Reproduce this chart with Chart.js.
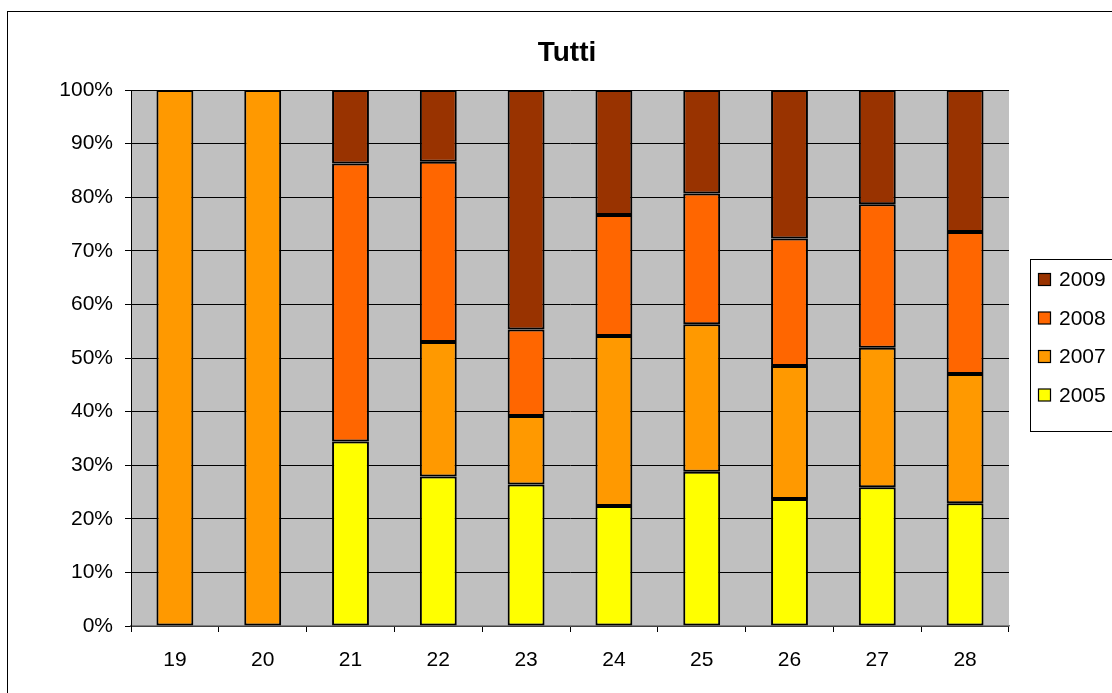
<!DOCTYPE html>
<html>
<head>
<meta charset="utf-8">
<script src="https://cdn.jsdelivr.net/npm/chart.js@4"></script>
<style>
  html, body { margin: 0; padding: 0; background: #ffffff; }
  #wrap { width: 1112px; height: 693px; position: relative; }
</style>
</head>
<body>
<div id="wrap"><canvas id="c" width="1112" height="693"></canvas></div>
<script>
// Categories along the x axis
const categories = ['19', '20', '21', '22', '23', '24', '25', '26', '27', '28'];

// Share (%) of each year within every category
const v2005 = [0, 0, 34.4, 27.9, 26.4, 22.4, 28.8, 23.7, 25.9, 22.9];
const v2007 = [100, 100, 0, 25.1, 12.8, 31.7, 27.5, 24.8, 26.0, 24.1];
const v2008 = [0, 0, 51.9, 33.6, 16.1, 22.6, 24.4, 23.8, 26.8, 26.5];
const v2009 = [0, 0, 13.7, 13.4, 44.7, 23.3, 19.3, 27.7, 21.3, 26.5];

const seriesLabels = ['2005', '2007', '2008', '2009'];
const seriesColors = ['#FFFF00', '#FF9900', '#FF6600', '#993300'];
const yTicks = [0, 10, 20, 30, 40, 50, 60, 70, 80, 90, 100];
const titleText = 'Tutti';

const FONT = '"Liberation Sans", Arial, sans-serif';

const seriesValues = [v2005, v2007, v2008, v2009];
const datasets = seriesValues.map((vals, i) => ({
  label: seriesLabels[i],
  data: vals,
  backgroundColor: seriesColors[i],
  borderColor: '#000000',
  borderWidth: 2,
  borderSkipped: false,
  categoryPercentage: 1.0,
  barPercentage: 0.42
}));

// Grey plot area, outer frame, title and the boxed legend
const decor = {
  id: 'decor',
  beforeDraw(chart) {
    const { ctx, chartArea: a } = chart;
    ctx.save();
    ctx.fillStyle = '#ffffff';
    ctx.fillRect(0, 0, chart.width, chart.height);
    ctx.fillStyle = '#C0C0C0';
    ctx.fillRect(a.left, a.top, a.right - a.left, a.bottom - a.top);
    ctx.restore();
  },
  afterDraw(chart) {
    const { ctx } = chart;
    ctx.save();
    // outer chart frame
    ctx.strokeStyle = '#000000';
    ctx.lineWidth = 1;
    ctx.strokeRect(7.5, 11.5, chart.width + 20, chart.height + 20);

    // title
    ctx.fillStyle = '#000000';
    ctx.font = 'bold 28px ' + FONT;
    ctx.textAlign = 'center';
    ctx.textBaseline = 'middle';
    ctx.fillText(titleText, 567, 53);

    // legend (reverse order: newest on top)
    const lx = 1030.5, ly = 259.5, step = 38.5;
    const n = chart.data.datasets.length;
    ctx.strokeStyle = '#000000';
    ctx.lineWidth = 1;
    ctx.strokeRect(lx, ly, 200, 20 + step * n - 2);
    ctx.font = '21px ' + FONT;
    ctx.textAlign = 'left';
    for (let k = 0; k < n; k++) {
      const ds = chart.data.datasets[n - 1 - k];
      const cy = 279.5 + k * step;
      ctx.fillStyle = ds.backgroundColor;
      ctx.fillRect(1038.5, cy - 6, 12, 12);
      ctx.strokeStyle = '#000000';
      ctx.lineWidth = 1.2;
      ctx.strokeRect(1038.5, cy - 6, 12, 12);
      ctx.fillStyle = '#000000';
      ctx.fillText(ds.label, 1059, cy + 1);
    }
    ctx.restore();
  }
};

new Chart(document.getElementById('c'), {
  type: 'bar',
  data: { labels: categories, datasets },
  options: {
    responsive: false,
    animation: false,
    devicePixelRatio: 1,
    layout: { padding: { left: 0, top: 90, right: 103, bottom: 0 } },
    plugins: {
      legend: { display: false },
      title: { display: false },
      tooltip: { enabled: false }
    },
    scales: {
      x: {
        stacked: true,
        offset: true,
        afterFit(scale) { scale.height = 67; },
        grid: {
          offset: true,
          drawOnChartArea: false,
          drawTicks: true,
          tickLength: 6,
          color: '#000000'
        },
        border: { display: true, color: '#808080', width: 1.5 },
        ticks: {
          color: '#000000',
          font: { family: FONT, size: 21 },
          padding: 16,
          maxRotation: 0
        }
      },
      y: {
        stacked: true,
        min: 0,
        max: 100,
        afterFit(scale) { scale.width = 131; },
        afterBuildTicks(scale) { scale.ticks = yTicks.map(v => ({ value: v })); },
        grid: {
          color: '#000000',
          lineWidth: 1,
          drawTicks: true,
          tickLength: 6
        },
        border: { display: true, color: '#000000', width: 1 },
        ticks: {
          color: '#000000',
          font: { family: FONT, size: 21 },
          padding: 12,
          callback: (v) => v + '%'
        }
      }
    }
  },
  plugins: [decor]
});
</script>
</body>
</html>
